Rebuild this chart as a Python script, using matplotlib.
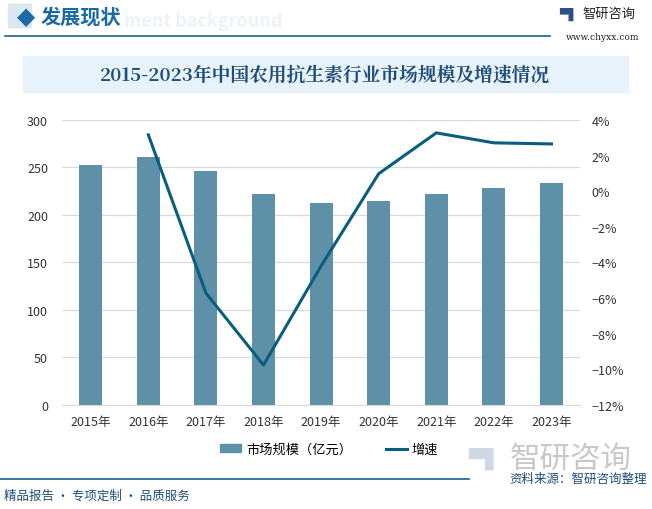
import matplotlib.pyplot as plt
from matplotlib.patches import Rectangle, Patch
from matplotlib.lines import Line2D
import numpy as np

plt.rcParams['font.family'] = ['Noto Sans CJK SC', 'DejaVu Sans']

years = ['2015年', '2016年', '2017年', '2018年', '2019年', '2020年', '2021年', '2022年', '2023年']
market_size = [253, 261, 246, 222, 212.6, 214.7, 222, 228, 233.7]  # 亿元
growth = [None, 3.16, -5.72, -9.76, -4.2, 0.98, 3.27, 2.71, 2.65]  # %

bar_color = '#5e91a8'
line_color = '#0b5d7e'
navy = '#1f4e79'

fig = plt.figure(figsize=(6.52, 5.10), dpi=100)

# header
fig.text(0.19, 0.958, 'ment background', fontsize=13, color='#eef3f8', fontweight='bold',
         va='center', ha='left', zorder=0)
fig.patches.append(Rectangle((0.012, 0.945), 0.035, 0.045, transform=fig.transFigure,
                             color='#dbe7f1', zorder=1))
fig.text(0.040, 0.966, '◆', fontsize=17, color='#1a6aa5', ha='center', va='center',
         family=['DejaVu Sans'])
fig.text(0.063, 0.966, '发展现状', fontsize=14.5, color='#1a6aa5', fontweight='bold',
         ha='left', va='center')
fig.add_artist(Line2D([0.008, 0.843], [0.927, 0.927], color='#1f5f8b', lw=1.2,
                      transform=fig.transFigure))
fig.text(0.872, 0.972, '▀▌', fontsize=9, color='#2d4f8a', ha='center', va='center',
         family=['DejaVu Sans'])
fig.text(0.893, 0.972, '智研咨询', fontsize=9.5, color='#222222', ha='left', va='center')
fig.text(0.980, 0.927, 'www.chyxx.com', fontsize=6.5, color='#222222', ha='right',
         va='center', family=['DejaVu Serif'])

# title banner
fig.patches.append(Rectangle((0.035, 0.818), 0.928, 0.071, transform=fig.transFigure,
                             color='#e8f2fa', zorder=1))
fig.text(0.499, 0.852, '2015-2023年中国农用抗生素行业市场规模及增速情况', fontsize=13.5,
         fontweight='bold', color=navy, ha='center', va='center',
         family=['Noto Serif CJK SC', 'Noto Sans CJK SC', 'DejaVu Sans'])

# main chart
ax = fig.add_axes([0.095, 0.204, 0.795, 0.559])
x = np.arange(len(years))
ax.bar(x, market_size, width=0.4, color=bar_color, zorder=2)
ax.set_ylim(0, 300)
ax.set_yticks(range(0, 301, 50))
ax.set_xlim(-0.5, len(years) - 0.5)
ax.set_xticks(x)
ax.set_xticklabels(years)
ax.grid(axis='y', color='#d9d9d9', lw=0.9, zorder=0)
for s in ['top', 'right', 'left']:
    ax.spines[s].set_visible(False)
ax.spines['bottom'].set_color('#d9d9d9')
ax.tick_params(axis='both', length=0, labelsize=9, colors='#333333')
ax.tick_params(axis='y', pad=10)
ax.tick_params(axis='x', pad=7)

ax2 = ax.twinx()
gx = [i for i, g in enumerate(growth) if g is not None]
gy = [g for g in growth if g is not None]
ax2.plot(gx, gy, color=line_color, lw=2.2, zorder=3)
ax2.set_ylim(-12, 4)
ax2.set_yticks(range(-12, 5, 2))
ax2.set_yticklabels(['{}%'.format(t).replace('-', '−') for t in range(-12, 5, 2)])
for s in ['top', 'right', 'left', 'bottom']:
    ax2.spines[s].set_visible(False)
ax2.tick_params(axis='y', length=0, labelsize=9, colors='#333333', pad=8)

# legend
handles = [Patch(color=bar_color), Line2D([0], [0], color=line_color, lw=2.2)]
fig.legend(handles, ['市场规模（亿元）', '增速'], loc='center', bbox_to_anchor=(0.505, 0.117),
           ncol=2, frameon=False, fontsize=9.5, handlelength=1.6, handleheight=0.5,
           columnspacing=2.5, handletextpad=0.4)

# footer
fig.text(0.745, 0.1, '▀▌', fontsize=16, color='#d0d8e4', ha='center', va='center',
         family=['DejaVu Sans'], zorder=0)
fig.text(0.875, 0.1, '智研咨询', fontsize=22, color='#c8c8c8', ha='center', va='center',
         zorder=0)
fig.add_artist(Line2D([0.0, 0.72], [0.059, 0.059], color='#1f5f8b', lw=1.2,
                      transform=fig.transFigure))
fig.text(0.992, 0.059, '资料来源：智研咨询整理', fontsize=9, color=navy, ha='right',
         va='center')
fig.text(0.006, 0.027, '精品报告 · 专项定制 · 品质服务', fontsize=9, color=navy, ha='left',
         va='center')

fig.savefig('out.png', dpi=100)
